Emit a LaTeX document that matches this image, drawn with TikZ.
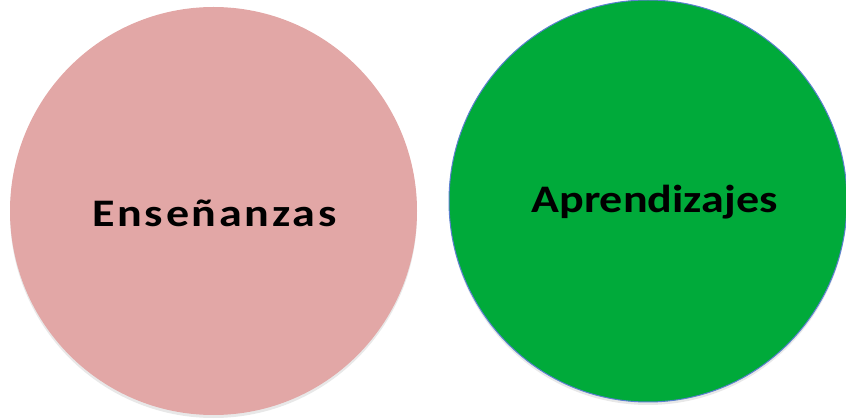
\documentclass[tikz,border=0pt]{standalone}
\usepackage{fontspec}
\setmainfont{Carlito}
\newfontfamily\spacedfont[LetterSpace=6]{Carlito}
\usetikzlibrary{shapes.geometric,shadows}
\definecolor{rosa}{RGB}{226,167,166}
\definecolor{verde}{RGB}{0,170,58}
\definecolor{borde}{RGB}{91,127,208}
\begin{document}
\begin{tikzpicture}[x=1pt,y=-1pt]
\useasboundingbox (0,0) rectangle (846,419);
\tikzset{
  bubble/.style={ellipse, inner sep=0pt,
    drop shadow={shadow xshift=0pt, shadow yshift=-3pt, opacity=0.18}},
  lbl/.style={text=black, anchor=base, xscale=1.18, font=\fontsize{39}{44}\selectfont\bfseries}
}
\node [bubble, fill=rosa, minimum width=407, minimum height=408] (ensenanzas) at (213.5,211) {};
\node [bubble, fill=verde, draw=borde, line width=1pt, minimum width=398, minimum height=402] (aprendizajes) at (648,201) {};
\draw (214.5,227) node [lbl, font=\spacedfont\fontsize{39}{44}\selectfont\bfseries] (txtens) {Enseñanzas};
\draw (654.5,213) node [lbl] (txtapr) {Aprendizajes};
\end{tikzpicture}
\end{document}
